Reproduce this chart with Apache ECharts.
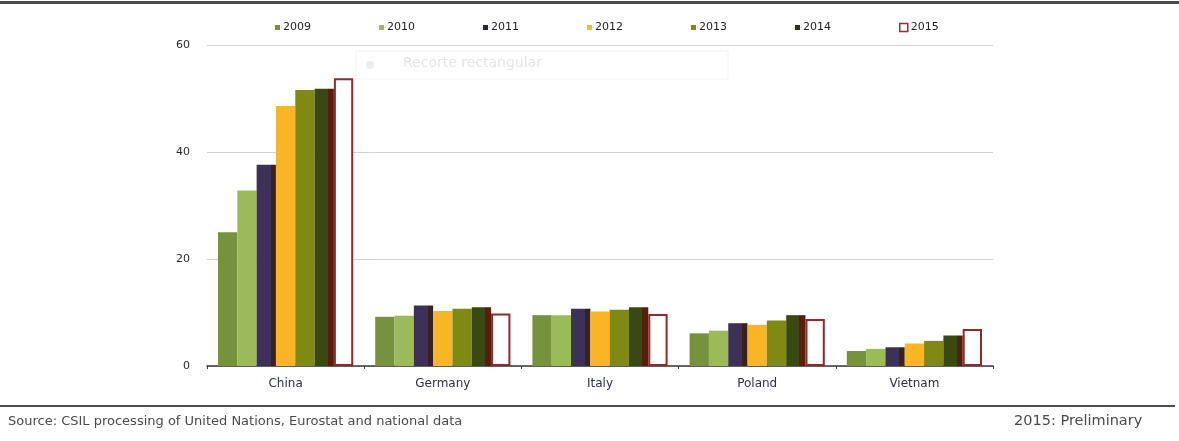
<!DOCTYPE html>
<html>
<head>
<meta charset="utf-8">
<script src="https://cdn.jsdelivr.net/npm/echarts@6/dist/echarts.min.js"></script>
<style>
  html, body { margin: 0; padding: 0; background: #fff; }
  #chart { width: 1179px; height: 441px; }
</style>
</head>
<body>
<div id="chart"></div>
<script>
// Furniture production by country, 2009-2015 (2015 preliminary)
const categories = ['China', 'Germany', 'Italy', 'Poland', 'Vietnam'];
const years = ['2009', '2010', '2011', '2012', '2013', '2014', '2015'];
const yTicks = [0, 20, 40, 60];

const v2009 = [25.0, 9.2, 9.5, 6.1, 2.8];
const v2010 = [32.8, 9.4, 9.5, 6.6, 3.2];
const v2011 = [37.6, 11.3, 10.7, 8.0, 3.5];
const v2012 = [48.6, 10.3, 10.2, 7.7, 4.2];
const v2013 = [51.6, 10.7, 10.5, 8.5, 4.7];
const v2014 = [51.8, 11.0, 11.0, 9.5, 5.7];
const v2015 = [53.8, 9.8, 9.7, 8.8, 6.9];

const values = [v2009, v2010, v2011, v2012, v2013, v2014, v2015];

// bar fills; two years carry a dark shaded right edge
function edged(base, edge, stop) {
  return new echarts.graphic.LinearGradient(0, 0, 1, 0, [
    { offset: 0, color: base },
    { offset: stop, color: base },
    { offset: stop, color: edge },
    { offset: 1, color: edge }
  ]);
}
const styles = [
  { color: '#76923c' },
  { color: '#9bbb59' },
  { color: edged('#3d3157', '#3a2119', 0.72) },
  { color: '#f8b526' },
  { color: '#7e8a14' },
  { color: edged('#3a4914', '#5a1d0d', 0.68) },
  { color: '#ffffff', borderColor: '#8e2a2a', borderWidth: 2 }
];
const legendIcon = ['#76923c', '#9bbb59', '#2c2340', '#f3c020', '#7e8a14', '#2a3410', '#ffffff'];

const textFont = '"DejaVu Sans", Arial, sans-serif';

const series = years.map((y, i) => ({
  name: y,
  type: 'bar',
  data: values[i],
  barGap: '0%',
  barCategoryGap: '14%',
  itemStyle: styles[i]
}));

// one legend block per year, spaced evenly along the top
const legends = years.map((y, i) => ({
  data: [{
    name: y,
    itemStyle: i === 6
      ? { color: '#ffffff', borderColor: '#9a2a3a', borderWidth: 1.5 }
      : { color: legendIcon[i] }
  }],
  left: 270 + i * 104,
  top: 17,
  itemWidth: i === 6 ? 8 : 5,
  itemHeight: i === 6 ? 8 : 5,
  itemGap: 2,
  icon: 'rect',
  selectedMode: false,
  textStyle: { fontFamily: textFont, fontSize: 11, color: '#222', padding: [0, 0, 0, -2] }
}));

const chart = echarts.init(document.getElementById('chart'), null, { renderer: 'canvas' });
chart.setOption({
  animation: false,
  backgroundColor: '#ffffff',
  legend: legends,
  grid: { left: 207, right: 186, top: 45, bottom: 75, containLabel: false },
  xAxis: {
    type: 'category',
    data: categories,
    axisLine: { lineStyle: { color: '#3a3a3a', width: 1.5 } },
    axisTick: { show: true, length: 3, lineStyle: { color: '#3a3a3a' } },
    axisLabel: { fontFamily: textFont, fontSize: 12, color: '#2e2e4a', margin: 12 }
  },
  yAxis: {
    type: 'value',
    min: yTicks[0],
    max: yTicks[yTicks.length - 1],
    interval: yTicks[1] - yTicks[0],
    axisLine: { show: false },
    axisTick: { show: false },
    axisLabel: { fontFamily: textFont, fontSize: 11, color: '#2a2a2a', margin: 17 },
    splitLine: { lineStyle: { color: '#d2d2d2', width: 1 } }
  },
  series: series,
  graphic: [
    { type: 'rect', shape: { x: 0, y: 1, width: 1179, height: 3 }, style: { fill: '#4a4a4a' }, silent: true },
    { type: 'rect', shape: { x: 0, y: 405, width: 1175, height: 2 }, style: { fill: '#4d4d4d' }, silent: true },
    { type: 'rect', shape: { x: 356, y: 51, width: 372, height: 28 }, style: { fill: 'none', stroke: '#f4f4f4', lineWidth: 1 }, silent: true },
    { type: 'circle', shape: { cx: 370, cy: 65, r: 4 }, style: { fill: '#eeeeee' }, silent: true },
    { type: 'text', left: 403, top: 56, silent: true,
      style: { text: 'Recorte rectangular', font: '14px ' + textFont, fill: '#e6e6e6' } },
    { type: 'text', left: 8, top: 415, silent: true,
      style: { text: 'Source: CSIL processing of United Nations, Eurostat and national data', font: '13px ' + textFont, fill: '#4a4a4a' } },
    { type: 'text', left: 1014, top: 414, silent: true,
      style: { text: '2015: Preliminary', font: '14.5px ' + textFont, fill: '#4a4a4a' } }
  ]
});
</script>
</body>
</html>
